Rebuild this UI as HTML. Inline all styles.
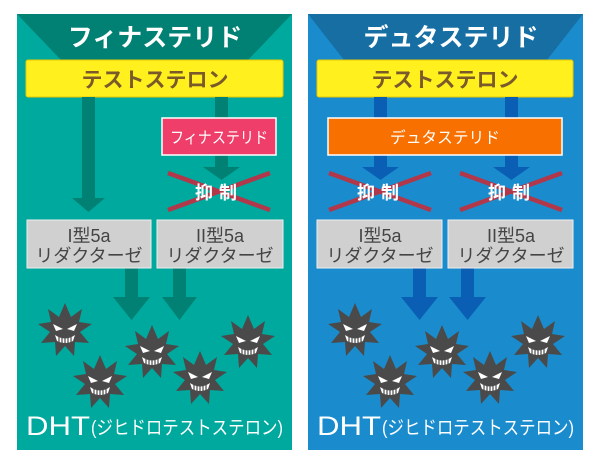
<!DOCTYPE html>
<html><head><meta charset="utf-8"><style>
body{margin:0;background:#fff}
text{font-family:"Liberation Sans","Noto Sans CJK JP",sans-serif}
</style></head><body>
<svg width="600" height="465" viewBox="0 0 600 465" xmlns="http://www.w3.org/2000/svg">
<defs>
<g id="v">
<polygon fill="#4a4a4a" points="0,-27 6,-13 17,-21 14,-8 27,-6 15,2 24,13 10,12 9,26 0,16 -9,26 -10,12 -24,13 -15,2 -27,-6 -14,-8 -17,-21 -6,-13"/>
<polygon fill="#fff" points="-12,-6 -2,-1 -9,1"/><polygon fill="#fff" points="12,-6 2,-1 9,1"/>
<path d="M-10,5 Q0,12 10,5 L8,11 Q0,15 -8,11Z" fill="#fff"/>
<path d="M-6,6V12M-3,7V13M0,7V14M3,7V13M6,6V12" stroke="#4a4a4a" stroke-width="1.2"/>
</g>
</defs>
<!-- left panel -->
<rect x="17" y="14" width="275" height="436" fill="#00a99d"/>
<polygon points="17,14 292,14 248,60 61,60" fill="#008174"/>
<text x="155" y="46" text-anchor="middle" font-size="25" font-weight="bold" fill="#fff">フィナステリド</text>
<rect x="26" y="60" width="257" height="37" rx="2" fill="#fff01e" stroke="#e8c800"/>
<text x="155" y="87" text-anchor="middle" font-size="21" font-weight="bold" fill="#7a5a2a">テストステロン</text>
<g fill="#008174">
<rect x="82" y="97" width="13" height="102"/><polygon points="72,198 105,198 88.5,212"/>
<rect x="215" y="97" width="13" height="21"/><rect x="215" y="155" width="13" height="14"/><polygon points="203,167 240,167 221.5,180"/>
<rect x="125" y="268" width="13" height="30"/><polygon points="113,297 150,297 131.5,320"/>
<rect x="173" y="268" width="13" height="30"/><polygon points="162,297 197,297 179.5,320"/>
</g>
<rect x="162" y="118" width="114" height="37" fill="#ef3e6a" stroke="#fff" stroke-width="1.5"/>
<text x="219" y="143" text-anchor="middle" font-size="16" fill="#fff" textLength="98" lengthAdjust="spacingAndGlyphs">フィナステリド</text>
<path d="M168,210L270,173M168,173L270,210" stroke="#b0384a" stroke-width="4.5"/>
<text x="219" y="199" text-anchor="middle" font-size="18" font-weight="bold" fill="#fff" letter-spacing="6">抑制</text>
<rect x="27" y="220" width="124" height="48" fill="#d0d0d0" stroke="#eee"/>
<rect x="157" y="220" width="126" height="48" fill="#d0d0d0" stroke="#eee"/>
<g font-size="18" fill="#444" text-anchor="middle">
<text x="89" y="242">I型5a</text><text x="89" y="262">リダクターゼ</text>
<text x="220" y="242">II型5a</text><text x="220" y="262">リダクターゼ</text>
</g>
<use href="#v" x="65" y="330"/><use href="#v" x="100" y="382"/><use href="#v" x="152" y="352"/><use href="#v" x="200" y="378"/><use href="#v" x="248" y="342"/>
<text x="26" y="435" font-size="27" fill="#fff" textLength="64" lengthAdjust="spacingAndGlyphs">DHT</text>
<text x="91" y="434" font-size="19" fill="#fff" textLength="192" lengthAdjust="spacingAndGlyphs">(ジヒドロテストステロン)</text>
<!-- right panel -->
<rect x="308" y="14" width="275" height="436" fill="#1a8ccd"/>
<polygon points="308,14 583,14 547,60 344,60" fill="#166ea3"/>
<text x="451" y="46" text-anchor="middle" font-size="25" font-weight="bold" fill="#fff">デュタステリド</text>
<rect x="317" y="60" width="256" height="37" rx="2" fill="#fff01e" stroke="#e8c800"/>
<text x="445" y="87" text-anchor="middle" font-size="21" font-weight="bold" fill="#7a5a2a">テストステロン</text>
<g fill="#0a5fb4">
<rect x="374" y="97" width="13" height="21"/><rect x="374" y="155" width="13" height="14"/><polygon points="362,167 399,167 380.5,180"/>
<rect x="505" y="97" width="13" height="21"/><rect x="505" y="155" width="13" height="14"/><polygon points="493,167 530,167 511.5,180"/>
<rect x="413" y="268" width="13" height="30"/><polygon points="401,297 438,297 419.5,320"/>
<rect x="461" y="268" width="13" height="30"/><polygon points="449,297 486,297 467.5,320"/>
</g>
<rect x="328" y="118" width="234" height="37" fill="#f77000" stroke="#fff" stroke-width="1.5"/>
<text x="445" y="143" text-anchor="middle" font-size="16" fill="#fff" textLength="110" lengthAdjust="spacingAndGlyphs">デュタステリド</text>
<path d="M329,210L431,173M329,173L431,210M460,210L562,173M460,173L562,210" stroke="#b0384a" stroke-width="4.5"/>
<text x="381" y="199" text-anchor="middle" font-size="18" font-weight="bold" fill="#fff" letter-spacing="6">抑制</text>
<text x="512" y="199" text-anchor="middle" font-size="18" font-weight="bold" fill="#fff" letter-spacing="6">抑制</text>
<rect x="317" y="220" width="125" height="48" fill="#d0d0d0" stroke="#eee"/>
<rect x="448" y="220" width="125" height="48" fill="#d0d0d0" stroke="#eee"/>
<g font-size="18" fill="#444" text-anchor="middle">
<text x="380" y="242">I型5a</text><text x="380" y="262">リダクターゼ</text>
<text x="511" y="242">II型5a</text><text x="511" y="262">リダクターゼ</text>
</g>
<use href="#v" x="355" y="330"/><use href="#v" x="390" y="382"/><use href="#v" x="442" y="352"/><use href="#v" x="490" y="378"/><use href="#v" x="538" y="342"/>
<text x="317" y="435" font-size="27" fill="#fff" textLength="64" lengthAdjust="spacingAndGlyphs">DHT</text>
<text x="382" y="434" font-size="19" fill="#fff" textLength="192" lengthAdjust="spacingAndGlyphs">(ジヒドロテストステロン)</text>
</svg>
</body></html>
